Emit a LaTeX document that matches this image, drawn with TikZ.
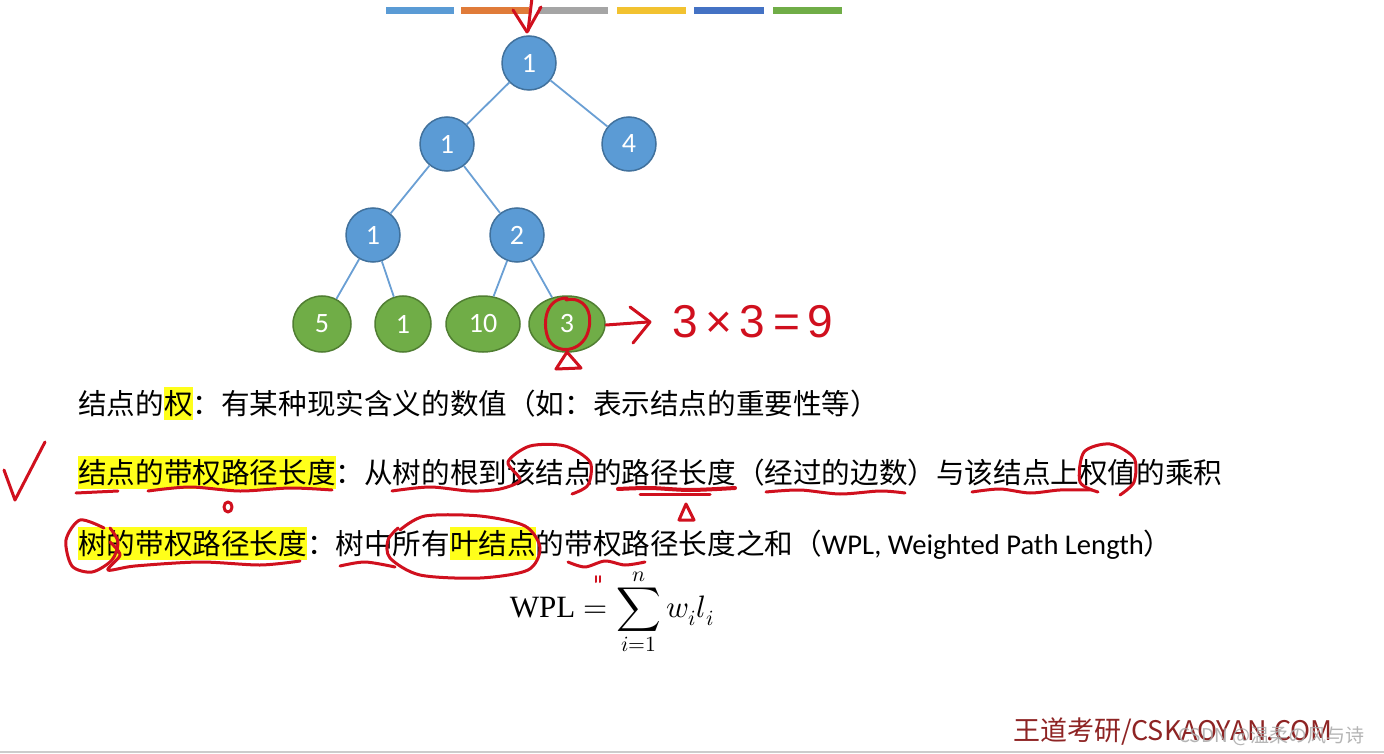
\documentclass[tikz,border=0pt]{standalone}
\usepackage{fontspec}
\usepackage{unicode-math}
\setmainfont{Liberation Serif}
\setmathfont{Latin Modern Math}
\newfontfamily\cjk{Noto Sans CJK SC}
\newfontfamily\calfont{Carlito}
\newfontfamily\hand{Liberation Sans}
\usetikzlibrary{shapes.geometric}
\definecolor{nodeblue}{HTML}{5B9BD5}
\definecolor{nodeblueline}{HTML}{41719C}
\definecolor{nodegreen}{HTML}{70AD47}
\definecolor{nodegreenline}{HTML}{507E32}
\definecolor{edgeblue}{HTML}{6A9FD4}
\definecolor{hly}{HTML}{FFFF1A}
\definecolor{inkred}{HTML}{D0101E}
\definecolor{barA}{HTML}{5A9BD5}
\definecolor{barB}{HTML}{E07B39}
\definecolor{barC}{HTML}{A5A5A5}
\definecolor{barD}{HTML}{F2C230}
\definecolor{barE}{HTML}{4472C4}
\definecolor{barF}{HTML}{70AD47}
\definecolor{wmred}{HTML}{8E2424}
\definecolor{wmgray}{HTML}{A8A8A8}
\newcommand\hlt[1]{{\setlength{\fboxsep}{0pt}\colorbox{hly}{\rule[-0.22em]{0pt}{1.16em}#1}}}
\tikzset{
  bnode/.style={circle, fill=nodeblue, draw=nodeblueline, line width=1.5pt, minimum size=54pt, inner sep=0pt, text=white, font=\calfont\fontsize{28}{32}\selectfont},
  gnode/.style={ellipse, fill=nodegreen, draw=nodegreenline, line width=1.5pt, minimum height=56pt, inner sep=0pt, text=white, font=\calfont\fontsize{28}{32}\selectfont},
  edge/.style={draw=edgeblue, line width=1.8pt},
  txt/.style={anchor=base west, inner sep=0pt, font=\cjk\fontsize{28.6}{34}\selectfont},
  ink/.style={draw=inkred, line width=3pt, line cap=round, line join=round},
}
\begin{document}
\begin{tikzpicture}[x=1pt,y=-1pt]
\useasboundingbox (0,0) rectangle (1384,754);
\fill[white] (0,0) rectangle (1384,754);
% colour bars
\fill[barA] (386,7) rectangle (454,14);
\fill[barB] (461,7) rectangle (529,14);
\fill[barC] (538,7) rectangle (608,14);
\fill[barD] (617,7) rectangle (686,14);
\fill[barE] (694,7) rectangle (764,14);
\fill[barF] (773,7) rectangle (842,14);
% tree
\node[bnode] (r) at (529,63) {1};
\node[bnode] (a) at (447,144) {1};
\node[bnode] (b) at (629,144) {4};
\node[bnode] (c) at (373,235) {1};
\node[bnode] (d) at (517,235) {2};
\node[gnode, minimum width=58pt] (e) at (322,324) {5};
\node[gnode, minimum width=56pt] (f) at (403,324) {1};
\node[gnode, minimum width=74pt] (g) at (483,324) {10};
\node[gnode, minimum width=76pt] (h) at (567,324) {3};
\draw[edge] (r) -- (a);
\draw[edge] (r) -- (b);
\draw[edge] (a) -- (c);
\draw[edge] (a) -- (d);
\draw[edge] (c) -- (e);
\draw[edge] (c) -- (f);
\draw[edge] (d) -- (g);
\draw[edge] (d) -- (h);
% text lines
\node[txt] (l1) at (78,414) {结点的\hlt{权}：有某种现实含义的数值（如：表示结点的重要性等）};
\node[txt] (l2) at (78,483) {\hlt{结点的带权路径长度}：从树的根到该结点的路径长度（经过的边数）与该结点上权值的乘积};
\node[txt] (l3) at (78,554) {\hlt{树的带权路径长度}：树中所有\hlt{叶结点}的带权路径长度之和（{\calfont WPL, Weighted Path Length}）};
% formula
\node[inner sep=0pt, font=\fontsize{31}{36}\selectfont] (wpl) at (612,612) {$\displaystyle \mathrm{WPL}=\sum_{i=1}^{n} w_i l_i$};
% watermark
\node[anchor=west, inner sep=0pt, text=wmred, font=\cjk\fontsize{27}{30}\selectfont] (wm) at (1013,732) {王道考研/CSKAOYAN.COM};
\node[anchor=west, inner sep=0pt, text=wmgray, opacity=0.85, font=\cjk\fontsize{19}{22}\selectfont] (csdn) at (1178,736) {CSDN @温柔の风与诗};
\draw[gray!40, line width=1.5pt] (0,752) -- (1384,752);
% red annotations
\draw[ink] (532,-2) -- (528,31);
\draw[ink] (513,10) -- (527,32) -- (541,7);
\draw[ink] (567,298) .. controls (546,298) and (542,322) .. (548,338) .. controls (556,356) and (582,352) .. (588,332) .. controls (594,312) and (584,296) .. (566,300);
\draw[ink] (567,352) -- (556,369) -- (581,368) -- cycle;
\draw[ink] (606,325) -- (648,322);
\draw[ink] (630,307) -- (650,322) -- (633,343);
\node[anchor=west, inner sep=0pt, text=inkred, font=\hand\fontsize{46}{50}\selectfont] (calc) at (672,322) {3\,×\,3\,=\,9};
% check mark
\draw[ink] (4,470) -- (15,500) -- (45,442);
% line 2 marks
\draw[ink] (76,493) -- (118,491);
\draw[ink] plot[smooth] coordinates {(148,491) (190,487) (240,491) (290,488) (332,490)};
\draw[ink] plot[smooth] coordinates {(392,491) (430,487) (470,491) (500,489) (520,480) (508,462) (530,446) (565,446) (590,462) (588,485) (572,494)};
\draw[ink, line width=4pt] plot[smooth] coordinates {(618,489) (650,488) (690,490) (735,488)};
\draw[ink] (640,494) -- (710,494);
\draw[ink] (686,504) -- (679,520) -- (694,520) -- cycle;
\draw[ink] (228,507) circle[x radius=4, y radius=5];
\draw[ink] plot[smooth] coordinates {(766,492) (800,490) (840,494) (880,491) (905,493)};
\draw[ink] plot[smooth] coordinates {(972,492) (1000,489) (1030,493) (1060,490) (1092,490)};
\draw[ink] plot[smooth] coordinates {(1098,492) (1080,482) (1084,452) (1110,444) (1134,458) (1134,482) (1120,495)};
% line 3 marks
\draw[ink] plot[smooth] coordinates {(104,528) (80,520) (66,540) (72,566) (92,572) (112,560) (118,542) (110,528)};
\draw[ink] plot[smooth] coordinates {(110,542) (120,555) (108,570) (135,566) (200,562) (260,565) (300,561)};
\draw[ink] plot[smooth] coordinates {(340,566) (365,562) (395,567)};
\draw[ink] plot[smooth] coordinates {(400,530) (425,516) (480,516) (525,526) (540,548) (528,570) (480,578) (420,575) (390,558) (388,540) (398,528)};
\draw[ink] plot[smooth] coordinates {(568,562) (585,567) (605,561) (625,565) (645,562)};
\draw[ink, line width=2pt] (596,576) -- (596,582);
\draw[ink, line width=2pt] (600,576) -- (600,582);
\end{tikzpicture}
\end{document}
